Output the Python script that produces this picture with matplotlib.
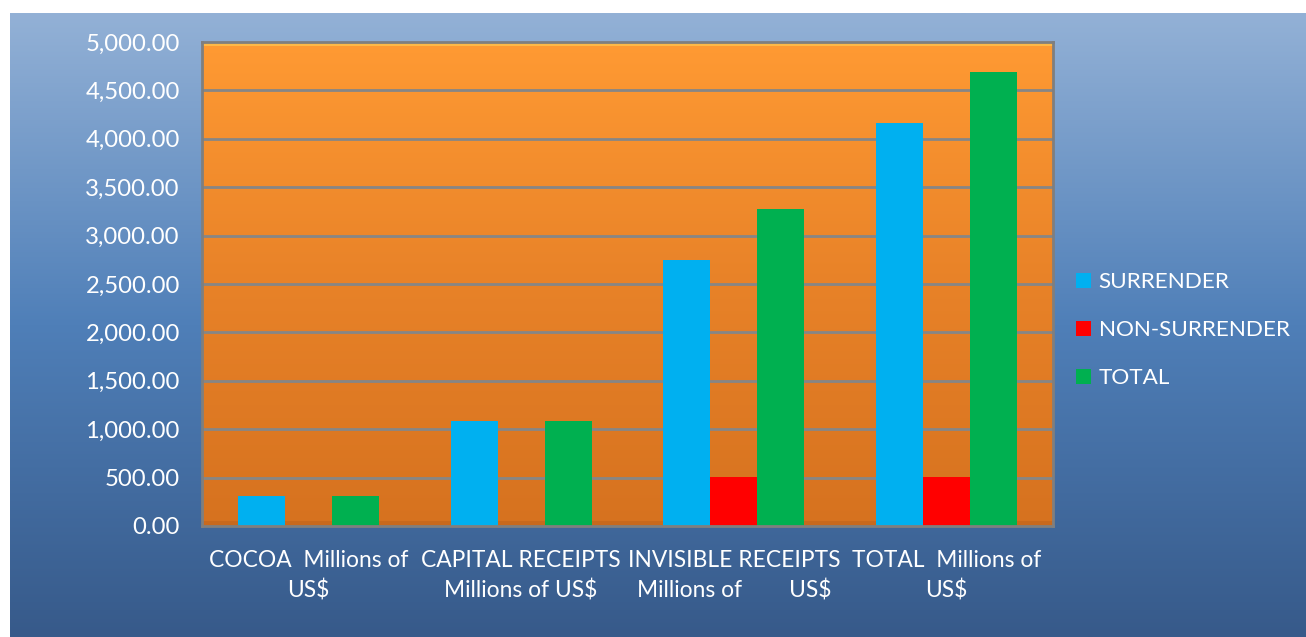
import numpy as np
import matplotlib
matplotlib.use("Agg")
import matplotlib.pyplot as plt
from matplotlib.colors import LinearSegmentedColormap

categories = ["COCOA  Millions of\nUS$", "CAPITAL RECEIPTS\nMillions of US$",
              "INVISIBLE RECEIPTS\nMillions of        US$", "TOTAL  Millions of\nUS$"]
series_names = ["SURRENDER", "NON-SURRENDER", "TOTAL"]
surrender = [310, 1085, 2748, 4163]
non_surrender = [0, 0, 506, 506]
total = [310, 1085, 3275, 4690]
colors = ["#00B0F0", "#FF0000", "#00B050"]
yticks = [0, 500, 1000, 1500, 2000, 2500, 3000, 3500, 4000, 4500, 5000]

plt.rcParams['font.family'] = ['Lato', 'DejaVu Sans']
W, H = 1306, 637
fig = plt.figure(figsize=(W / 100, H / 100), dpi=100)
fig.patch.set_facecolor("white")

# background gradient
bg = fig.add_axes([10 / W, 0, 1 - 10 / W, (H - 13) / H])
bg.axis("off")
bcmap = LinearSegmentedColormap.from_list("b", ["#375A8A", "#4F7FB8", "#93B1D6"])
bg.imshow(np.linspace(0, 1, 256)[::-1].reshape(-1, 1), aspect="auto", cmap=bcmap,
          extent=[0, 1, 0, 1], origin="upper")
bg.set_xlim(0, 1); bg.set_ylim(0, 1)

ax = fig.add_axes([202 / W, (H - 526) / H, (1053 - 202) / W, (526 - 42) / H])
ax.set_xlim(-0.5, 3.5)
ax.set_ylim(0, 5000)
ocmap = LinearSegmentedColormap.from_list("o", ["#D6721F", "#E88228", "#FF9A33"])
ax.imshow(np.linspace(0, 1, 256).reshape(-1, 1), aspect="auto", cmap=ocmap,
          extent=[-0.5, 3.5, 0, 5000], origin="lower", zorder=0)
# bevel highlights
ax.axhspan(4955, 5000, color="#FFD45A", alpha=0.55, zorder=0.5, lw=0)
ax.axhspan(0, 50, color="#A0501A", alpha=0.25, zorder=0.5, lw=0)

for y in yticks[1:-1]:
    ax.axhline(y, color="#868686", lw=2, zorder=1)

x = np.arange(len(categories))
w = 0.221
for i, (vals, name) in enumerate(zip([surrender, non_surrender, total], series_names)):
    ax.bar(x + (i - 1) * w, vals, width=w, color=colors[i], label=name, zorder=2, lw=0)

ax.set_xticks(x)
ax.set_xticklabels(categories, color="white", fontsize=16.4, linespacing=1.5)
ax.set_yticks(yticks)
ax.set_yticklabels([f"{v:,.2f}" for v in yticks], color="white", fontsize=17.2)
ax.tick_params(axis="both", length=0)
ax.tick_params(axis="y", pad=16)
ax.tick_params(axis="x", pad=17)
for s in ax.spines.values():
    s.set_color("#7F7F7F")
    s.set_linewidth(2)

fig.legend(loc="upper left", bbox_to_anchor=(1056 / W, 1 - 252 / H), frameon=False,
           fontsize=16.2, labelcolor="white", handlelength=0.65, handleheight=0.65,
           handletextpad=0.35, labelspacing=1.25)

fig.savefig("out.png", dpi=100, facecolor=fig.get_facecolor())
